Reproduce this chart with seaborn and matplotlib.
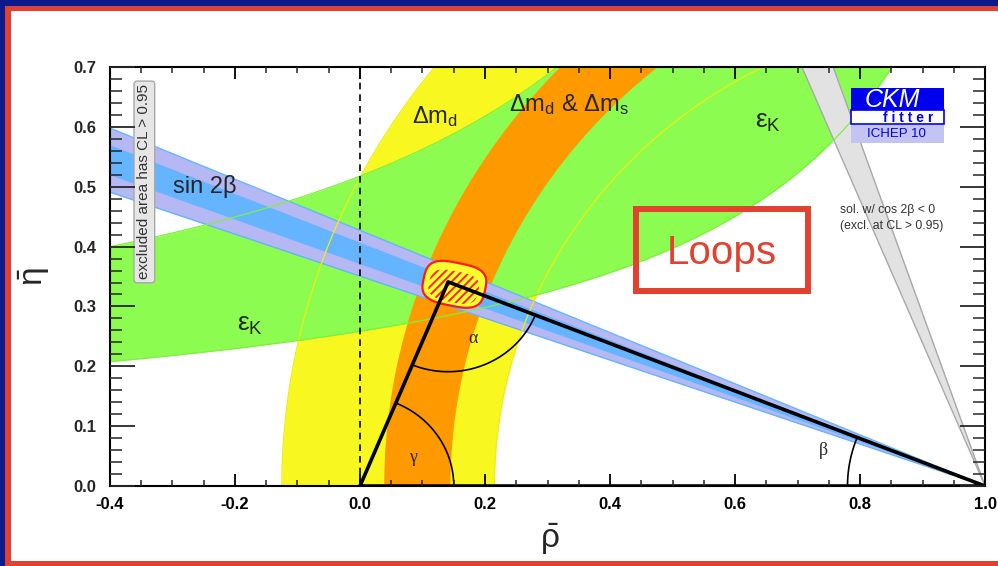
import numpy as np
import pandas as pd
import matplotlib
matplotlib.use("Agg")
import matplotlib.pyplot as plt
import seaborn as sns
from matplotlib.patches import Rectangle

# ---------------------------------------------------------------
# Global fit result: apex of the unitarity triangle (rho-bar, eta-bar)
apex_rho = 0.141
apex_eta = 0.341

# Delta m_d : annulus centred on (1, 0)
dmd_center = 1.0
dmd_radii = [0.785, 1.125]

# Delta m_d & Delta m_s : annulus
dms_center = 1.05
dms_radii = [0.906, 1.012]

# epsilon_K band, each edge eta = a / (b - rho) + c
epsk_low = [0.2629, 1.255, 0.049]
epsk_high = [0.457, 1.061, 0.087]

# sin 2beta wedge from (1, 0): edge slopes eta / (1 - rho)
s2b_outer = [0.3507, 0.4271]
s2b_inner = [0.3714, 0.4071]

# solution with cos 2beta < 0
c2b_slopes = [2.389, 2.881]

x_ticks = [-0.4, -0.2, 0.0, 0.2, 0.4, 0.6, 0.8, 1.0]
x_tick_labels = ["-0.4", "-0.2", "0.0", "0.2", "0.4", "0.6", "0.8", "1.0"]
y_ticks = [0.0, 0.1, 0.2, 0.3, 0.4, 0.5, 0.6, 0.7]
y_tick_labels = ["0.0", "0.1", "0.2", "0.3", "0.4", "0.5", "0.6", "0.7"]
# ---------------------------------------------------------------

YELLOW = "#f8f820"
ORANGE = "#ff9900"
GREEN = "#8cfc50"
BLUE = "#64b4ff"
LAVENDER = "#b6b8f4"
GREY = "#e2e2e2"
NAVY = "#0d1a8c"
RED = "#e3412f"

sns.set_style("ticks")
plt.rcParams["font.family"] = ["Liberation Sans", "DejaVu Sans"]
plt.rcParams["mathtext.fontset"] = "custom"
plt.rcParams["mathtext.rm"] = "Liberation Sans"
plt.rcParams["mathtext.it"] = "Liberation Sans"
plt.rcParams["mathtext.bf"] = "Liberation Sans:bold"
plt.rcParams["hatch.linewidth"] = 1.4

fig = plt.figure(figsize=(9.98, 5.66), dpi=100)
ax = fig.add_axes([0.1102, 0.1413, 0.8768, 0.7403])
ax.set_xlim(-0.4, 1.0)
ax.set_ylim(0.0, 0.7)

eta = np.linspace(0.0, 0.75, 500)
rho = np.linspace(-0.45, 1.0, 800)


def ring_edge(c, r):
    return c - np.sqrt(np.clip(r ** 2 - eta ** 2, 0, None))


def hyper(p):
    a, b, c = p
    return np.where(rho < b - 1e-3, a / (b - rho) + c, 5.0)


# Delta m_d
ax.fill_betweenx(eta, ring_edge(dmd_center, dmd_radii[1]),
                 ring_edge(dmd_center, dmd_radii[0]),
                 color=YELLOW, lw=0, zorder=1)

# epsilon_K
ek_lo = np.minimum(hyper(epsk_low), 0.8)
ek_hi = np.minimum(hyper(epsk_high), 0.8)
ax.fill_between(rho, ek_lo, ek_hi, color=GREEN, lw=0, zorder=2)

# Delta m_d & Delta m_s
ax.fill_betweenx(eta, ring_edge(dms_center, dms_radii[1]),
                 ring_edge(dms_center, dms_radii[0]),
                 color=ORANGE, lw=0, zorder=3)

# cos 2beta < 0 wedge
g_left = 1 - eta / c2b_slopes[0]
g_right = 1 - eta / c2b_slopes[1]
ax.fill_betweenx(eta, g_left, g_right, color=GREY, lw=0, zorder=4)
ax.plot(g_left, eta, color="#a8a8a8", lw=1.0, zorder=4)
ax.plot(g_right, eta, color="#a8a8a8", lw=1.0, zorder=4)

# sin 2beta
ax.fill_between(rho, s2b_outer[0] * (1 - rho), s2b_outer[1] * (1 - rho),
                color=LAVENDER, lw=0, zorder=5)
ax.fill_between(rho, s2b_inner[0] * (1 - rho), s2b_inner[1] * (1 - rho),
                color=BLUE, lw=0, zorder=5)
for s in s2b_outer:
    ax.plot(rho, s * (1 - rho), color=BLUE, lw=1.0, zorder=5)

# contour edges drawn over the fills
for r in dmd_radii:
    ax.plot(ring_edge(dmd_center, r), eta, color="#eeee10", lw=0.9, zorder=6)
for p in (epsk_low, epsk_high):
    ax.plot(rho, hyper(p), color="#7ef040", lw=0.9, zorder=6)

# global fit region (rounded blob with hatched inner core)
def squircle(cx, cy, a, b, tilt, n=3.2):
    t = np.linspace(0, 2 * np.pi, 300)
    c, s = np.cos(t), np.sin(t)
    x = a * np.sign(c) * np.abs(c) ** (2 / n)
    y = b * np.sign(s) * np.abs(s) ** (2 / n)
    th = np.radians(tilt)
    return (cx + x * np.cos(th) - y * np.sin(th),
            cy + x * np.sin(th) + y * np.cos(th))

bx, by = squircle(apex_rho + 0.010, apex_eta - 0.004, 0.050, 0.036, -12)
ax.fill(bx, by, facecolor="#ffff30", edgecolor="#ff1a1a", lw=1.6, zorder=7)
hx, hy = squircle(apex_rho + 0.009, apex_eta - 0.008, 0.040, 0.026, -12)
ax.fill(hx, hy, facecolor="none", edgecolor="#ff2020", lw=0, hatch="////",
        zorder=8)

# unitarity triangle
tri = pd.DataFrame({"rho": [0.0, apex_rho, 1.0, 0.0],
                    "eta": [0.0, apex_eta, 0.0, 0.0]})
sns.lineplot(data=tri, x="rho", y="eta", sort=False, estimator=None,
             color="black", lw=2.6, ax=ax, zorder=9)


def arc_frame(cx, cy, r, a0, a1):
    t = np.radians(np.linspace(a0, a1, 120))
    return pd.DataFrame({"rho": cx + r * np.cos(t), "eta": cy + r * np.sin(t)})

ang_left = np.degrees(np.arctan2(-apex_eta, -apex_rho))
ang_right = np.degrees(np.arctan2(-apex_eta, 1 - apex_rho))
ang_gamma = np.degrees(np.arctan2(apex_eta, apex_rho))
ang_beta = np.degrees(np.arctan2(apex_eta, 1 - apex_rho))

for frame in (arc_frame(apex_rho, apex_eta, 0.15, ang_left, ang_right),
              arc_frame(0.0, 0.0, 0.15, 0.0, ang_gamma),
              arc_frame(1.0, 0.0, 0.22, 180 - ang_beta, 180.0)):
    sns.lineplot(data=frame, x="rho", y="eta", sort=False, estimator=None,
                 color="black", lw=1.2, ax=ax, zorder=9)

ax.axvline(0.0, color="black", lw=1.2, ls=(0, (4, 3)), zorder=9)

# angle names
serif = ["Liberation Serif", "DejaVu Serif"]
ax.text(0.181, 0.247, "α", family=serif, fontsize=13, ha="center", va="center", zorder=10)
ax.text(0.085, 0.047, "γ", family=serif, fontsize=13, ha="center", va="center", zorder=10)
ax.text(0.741, 0.060, "β", family=serif, fontsize=13, ha="center", va="center", zorder=10)

# constraint names
ax.text(-0.248, 0.500, "sin 2β", fontsize=17, ha="center", va="center", zorder=10)
ax.text(-0.176, 0.269, r"$\varepsilon_\mathrm{K}$", fontsize=19, ha="center", va="center", zorder=10)
ax.text(0.653, 0.608, r"$\varepsilon_\mathrm{K}$", fontsize=19, ha="center", va="center", zorder=10)
ax.text(0.120, 0.618, r"$\Delta\mathrm{m}_\mathrm{d}$", fontsize=17, ha="center", va="center", zorder=10)
ax.text(0.334, 0.638, r"$\Delta\mathrm{m}_\mathrm{d}$ & $\Delta\mathrm{m}_\mathrm{s}$",
        fontsize=17, ha="center", va="center", zorder=10)

ax.text(-0.345, 0.508, "excluded area has CL > 0.95", rotation=90, fontsize=11,
        color="#333333", ha="center", va="center", zorder=10,
        bbox=dict(boxstyle="round,pad=0.22", fc="#e6e6e6", ec="#a8a8a8", lw=1.0))

ax.text(0.768, 0.461, "sol. w/ cos 2β < 0", fontsize=8.8, color="#333333",
        ha="left", va="center", zorder=10)
ax.text(0.768, 0.434, "(excl. at CL > 0.95)", fontsize=8.8, color="#333333",
        ha="left", va="center", zorder=10)

# CKMfitter badge
ax.add_patch(Rectangle((0.785, 0.628), 0.149, 0.037, fc="#0000ee", ec="none", zorder=10))
ax.add_patch(Rectangle((0.785, 0.605), 0.149, 0.023, fc="white", ec="#0000ee", lw=1.2, zorder=10))
ax.add_patch(Rectangle((0.785, 0.5735), 0.149, 0.0295, fc="#c4c4f2", ec="none", zorder=10))
ax.text(0.852, 0.645, "CKM", style="italic", color="white", fontsize=18,
        ha="center", va="center", zorder=11)
ax.text(0.877, 0.6155, "f i t t e r", color="#0000ee", fontsize=10, fontweight="bold",
        ha="center", va="center", zorder=11)
ax.text(0.859, 0.588, "ICHEP 10", color="#0000ee", fontsize=9.5,
        ha="center", va="center", zorder=11)

# Loops tag
ax.add_patch(Rectangle((0.442, 0.325), 0.274, 0.137, fill=False, ec=RED, lw=4.3, zorder=11))
ax.text(0.579, 0.389, "Loops", color=RED, fontsize=29, ha="center", va="center", zorder=11)

# axes styling
ax.set_xticks(x_ticks)
ax.set_xticklabels(x_tick_labels)
ax.set_yticks(y_ticks)
ax.set_yticklabels(y_tick_labels)
ax.set_xticks(np.arange(-0.4, 1.0001, 0.05), minor=True)
ax.set_yticks(np.arange(0.0, 0.7001, 0.02), minor=True)
ax.tick_params(axis="x", which="major", direction="in", length=8.6, width=1.3,
               top=True, bottom=True, labelsize=12, pad=8, colors="black")
ax.tick_params(axis="x", which="minor", direction="in", length=4.3, width=1.1,
               top=True, bottom=True)
ax.tick_params(axis="y", which="major", direction="in", length=18, width=1.3,
               left=True, right=True, labelsize=12, pad=10)
ax.tick_params(axis="y", which="minor", direction="in", length=8.6, width=1.1,
               left=True, right=True)
for lbl in ax.get_xticklabels() + ax.get_yticklabels():
    lbl.set_fontweight("bold")
for sp in ax.spines.values():
    sp.set_visible(True)
    sp.set_linewidth(1.5)
    sp.set_color("black")
    sp.set_zorder(20)
ax.xaxis.set_zorder(20)
ax.yaxis.set_zorder(20)

ax.set_xlabel(r"$\bar{\rho}$", fontsize=24)
ax.set_ylabel(r"$\bar{\eta}$", fontsize=24)
ax.xaxis.set_label_coords(0.503, -0.085)
ax.yaxis.set_label_coords(-0.066, 0.50)

# page frame
fig.add_artist(Rectangle((0, 0), 5 / 998, 1, transform=fig.transFigure, color=NAVY, lw=0))
fig.add_artist(Rectangle((0, 1 - 6 / 566), 1, 6 / 566, transform=fig.transFigure, color=NAVY, lw=0))
fig.add_artist(Rectangle((5 / 998, 0), 6 / 998, 1 - 6 / 566, transform=fig.transFigure, color=RED, lw=0))
fig.add_artist(Rectangle((5 / 998, 1 - 11 / 566), 1, 5 / 566, transform=fig.transFigure, color=RED, lw=0))
fig.add_artist(Rectangle((5 / 998, 0), 1, 5 / 566, transform=fig.transFigure, color=RED, lw=0))

fig.savefig("out.png", dpi=100)
